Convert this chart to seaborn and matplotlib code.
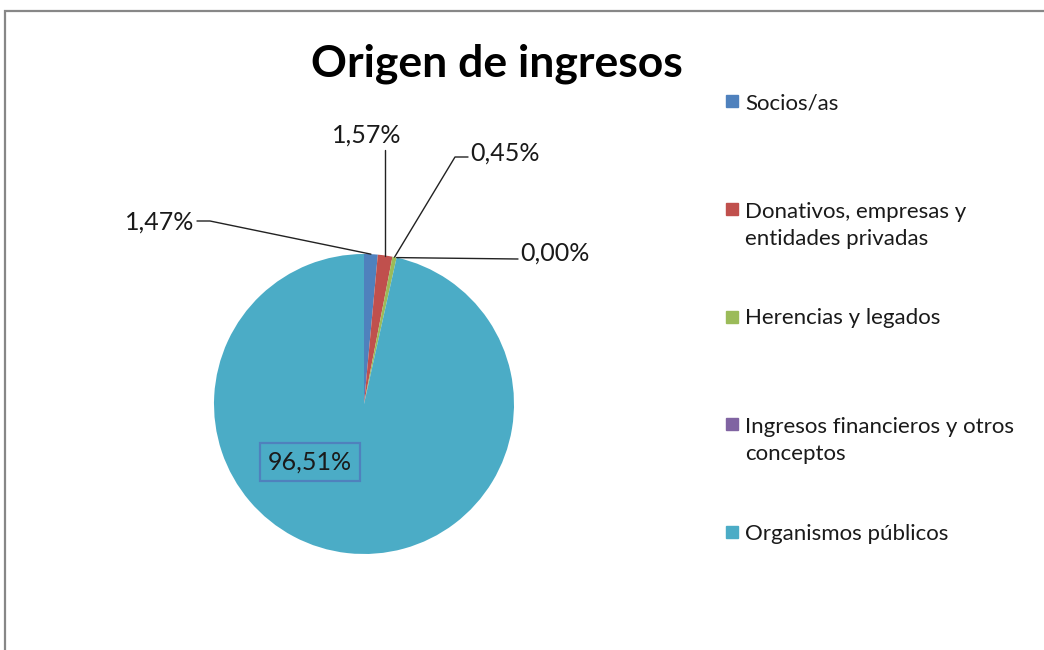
import numpy as np
import seaborn as sns
import matplotlib.pyplot as plt
from matplotlib.patches import Rectangle

# === datos ===
categorias = [
    "Socios/as",
    "Donativos, empresas y\nentidades privadas",
    "Herencias y legados",
    "Ingresos financieros y otros\nconceptos",
    "Organismos públicos",
]
porcentajes = [1.47, 1.57, 0.45, 0.00, 96.51]
etiquetas = ["1,47%", "1,57%", "0,45%", "0,00%", "96,51%"]
colores = ["#4F81BD", "#C0504D", "#9BBB59", "#8064A2", "#4BACC6"]

sns.set_theme(style="white")
sns.set_palette(colores)
plt.rcParams["font.family"] = ["Lato", "DejaVu Sans"]

W, H = 1044, 650
fig = plt.figure(figsize=(W / 100, H / 100), dpi=100)
ax = fig.add_axes([0, 0, 1, 1])
ax.set_xlim(0, W)
ax.set_ylim(H, 0)
ax.set_aspect("equal")
ax.axis("off")

# marco del gráfico
fig.patches.append(Rectangle((5 / W, -0.1), 1.2, (H - 11) / H + 0.1,
                             transform=fig.transFigure, fill=False,
                             edgecolor="#878787", linewidth=1.6))

cx, cy, r = 364, 404, 150
wedges, _ = ax.pie(porcentajes, colors=sns.color_palette(), startangle=-90,
                   counterclock=True, center=(cx, cy), radius=r,
                   wedgeprops=dict(linewidth=0))
ax.set_xlim(0, W)
ax.set_ylim(H, 0)

def borde(w):
    a = np.deg2rad((w.theta1 + w.theta2) / 2)
    return cx + r * np.cos(a), cy + r * np.sin(a)

txt = dict(fontsize=18, color="#1a1a1a")

# 1,47%
x0, y0 = borde(wedges[0])
ax.plot([197, 210, x0], [221, 221, y0], color="#222222", lw=1)
ax.text(194, 222, etiquetas[0], ha="right", va="center", **txt)
# 1,57%
x1, y1 = borde(wedges[1])
ax.plot([x1, x1], [150, y1], color="#222222", lw=1)
ax.text(367, 135, etiquetas[1], ha="center", va="center", **txt)
# 0,45%
x2, y2 = borde(wedges[2])
ax.plot([468, 455, x2], [157, 157, y2], color="#222222", lw=1)
ax.text(470, 153, etiquetas[2], ha="left", va="center", **txt)
# 0,00%
x3, y3 = borde(wedges[3])
ax.plot([x3, 518], [y3, 259], color="#222222", lw=1)
ax.text(520, 253, etiquetas[3], ha="left", va="center", **txt)
# 96,51%
ax.text(310, 462, etiquetas[4], ha="center", va="center",
        bbox=dict(boxstyle="square,pad=0.3", fc="none", ec="#4F81BD", lw=1.6), **txt)

# título
ax.text(497, 64, "Origen de ingresos", ha="center", va="center",
        fontsize=32, fontweight="bold", color="black")

# leyenda
for i, (cat, col) in enumerate(zip(categorias, colores)):
    yb = 101 + i * 107.75
    extra = 28 * cat.count("\n")
    ax.add_patch(Rectangle((726, yb - 6), 12, 12, color=col))
    ax.text(745, yb + 8 + extra, cat, ha="left", va="baseline", fontsize=16,
            color="#1a1a1a", linespacing=1.45)

fig.savefig("out.png", dpi=100)
